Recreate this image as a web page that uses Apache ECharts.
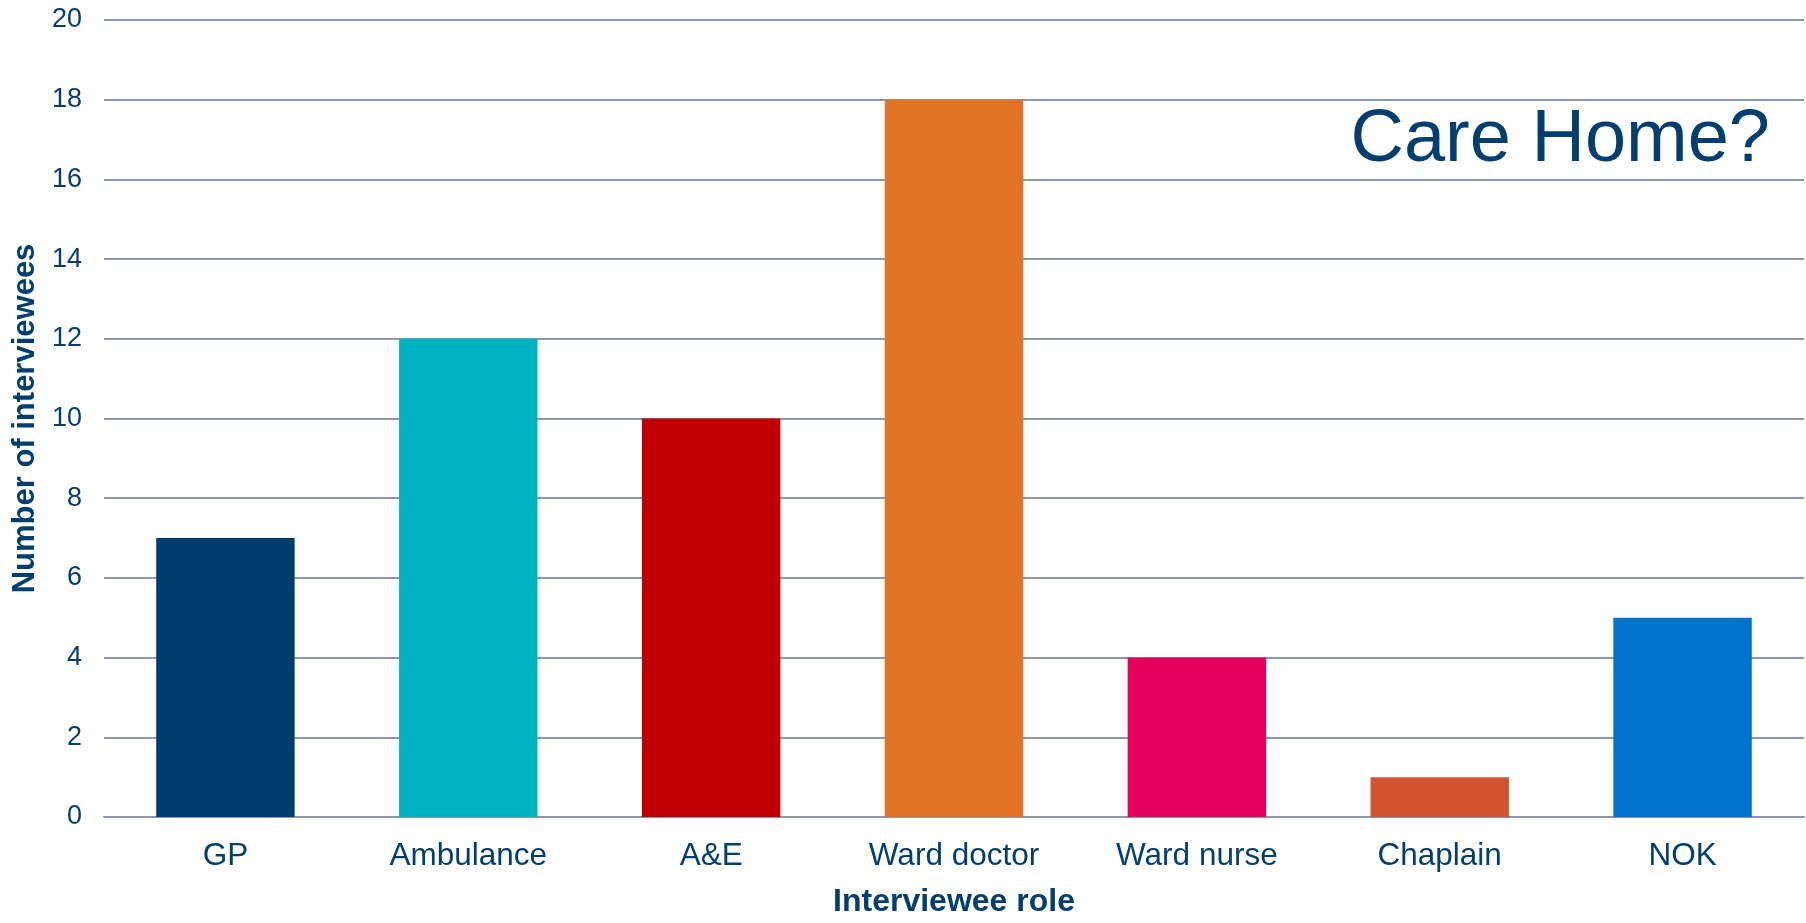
<!DOCTYPE html>
<html>
<head>
<meta charset="utf-8">
<script src="https://cdn.jsdelivr.net/npm/echarts@6/dist/echarts.min.js"></script>
<style>
html,body{margin:0;padding:0;background:#fff;}
#chart{width:1806px;height:923px;}
</style>
</head>
<body>
<div id="chart"></div>
<script>
const categories = ['GP', 'Ambulance', 'A&E', 'Ward doctor', 'Ward nurse', 'Chaplain', 'NOK'];
const values = [7, 12, 10, 18, 4, 1, 5];
const barColors = ['#003d6f', '#00b3c1', '#c00000', '#e27326', '#e6005c', '#d3552f', '#0074cd'];
const yTicks = [0, 2, 4, 6, 8, 10, 12, 14, 16, 18, 20];
const yAxisTitle = 'Number of interviewees';
const xAxisTitle = 'Interviewee role';
const annotation = 'Care Home?';

const textColor = '#023f70';
const font = '"Liberation Sans", Arial, sans-serif';

const chart = echarts.init(document.getElementById('chart'));
chart.setOption({
  animation: false,
  backgroundColor: '#ffffff',
  grid: { left: 104, right: 2, top: 20, bottom: 98, containLabel: false },
  xAxis: {
    type: 'category',
    data: categories,
    axisLine: { show: true, lineStyle: { color: '#8e96ab', width: 2 } },
    axisTick: { show: false },
    axisLabel: { color: textColor, fontSize: 31.5, fontFamily: font, margin: 23 },
    name: xAxisTitle,
    nameLocation: 'middle',
    nameGap: 69,
    nameTextStyle: { color: textColor, fontSize: 32, fontWeight: 'bold', fontFamily: font }
  },
  yAxis: {
    type: 'value',
    min: yTicks[0],
    max: yTicks[yTicks.length - 1],
    interval: yTicks[1] - yTicks[0],
    axisLine: { show: false },
    axisTick: { show: false },
    splitLine: { show: true, lineStyle: { color: '#8e96ab', width: 2 } },
    axisLabel: { color: textColor, fontSize: 27, fontFamily: font, margin: 22 },
    name: yAxisTitle,
    nameLocation: 'middle',
    nameGap: 59,
    nameRotate: 90,
    nameTextStyle: { color: textColor, fontSize: 31, fontWeight: 'bold', fontFamily: font }
  },
  series: [{
    type: 'bar',
    data: values.map((v, i) => ({ value: v, itemStyle: { color: barColors[i] } })),
    barWidth: '57%'
  }],
  graphic: [{
    type: 'text',
    right: 36,
    top: 104,
    style: { text: annotation, fill: textColor, fontSize: 74, fontFamily: font }
  }]
});
</script>
</body>
</html>
